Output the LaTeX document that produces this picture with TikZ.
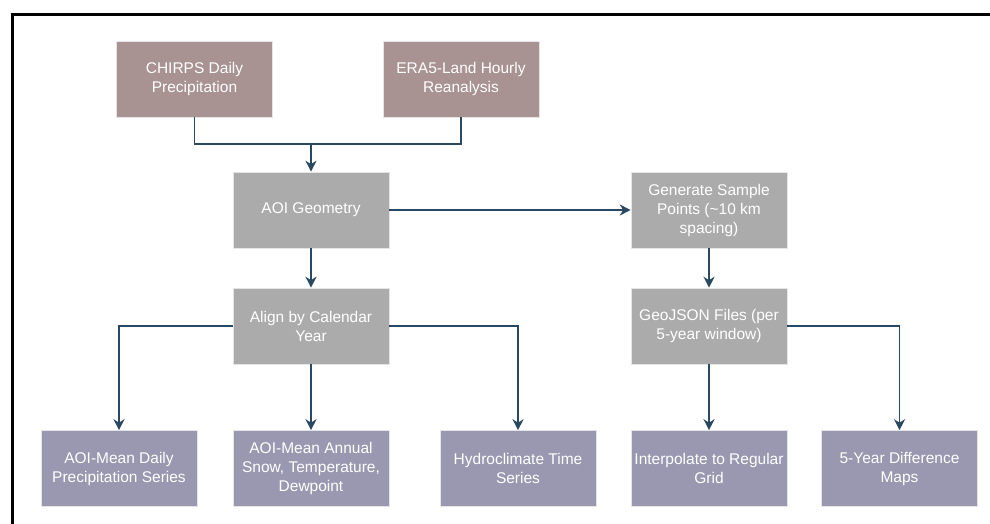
\documentclass[tikz,border=0pt]{standalone}
\usepackage{fontspec}
\setmainfont{Liberation Sans}
\usetikzlibrary{arrows.meta}
\definecolor{srcc}{HTML}{A89292}
\definecolor{midc}{HTML}{ABABAB}
\definecolor{outc}{HTML}{9A97B0}
\definecolor{arrc}{HTML}{294862}
\begin{document}
\begin{tikzpicture}[x=1pt,y=-1pt,
  box/.style={minimum width=156pt,minimum height=76pt,inner sep=0pt,align=center,
    text=white,font=\fontsize{15.5pt}{19pt}\selectfont,draw=white!80!gray,line width=0.6pt},
  srcbox/.style={box,fill=srcc},
  midbox/.style={box,fill=midc},
  outbox/.style={box,fill=outc},
  conn/.style={draw=arrc,line width=1.5pt},
  arr/.style={conn,-{Stealth[length=11pt,width=11pt,inset=3.5pt]}}]
\useasboundingbox (0,0) rectangle (990,524);
\fill[white] (0,0) rectangle (990,524);
\draw[line width=3pt,black] (12,524) -- (12,15) -- (990,15);

\node[srcbox] (chirps) at (194.5,79) {CHIRPS Daily\\Precipitation};
\node[srcbox] (era) at (461,79) {ERA5-Land Hourly\\Reanalysis};
\node[midbox] (aoi) at (311,210) {AOI Geometry};
\node[midbox] (align) at (311,326) {Align by Calendar\\Year};
\node[midbox] (gen) at (709,210) {Generate Sample\\Points (\textasciitilde10 km\\spacing)};
\node[midbox] (geo) at (709,326) {GeoJSON Files (per\\5-year window)};
\node[outbox] (daily) at (119,468.5) {AOI-Mean Daily\\Precipitation Series};
\node[outbox] (annual) at (311,468.5) {AOI-Mean Annual\\Snow, Temperature,\\Dewpoint};
\node[outbox] (hydro) at (518,468.5) {Hydroclimate Time\\Series};
\node[outbox] (interp) at (709,468.5) {Interpolate to Regular\\Grid};
\node[outbox] (diff) at (899.5,468.5) {5-Year Difference\\Maps};

\coordinate (jl) at (chirps.south |- 0,144);
\coordinate (jr) at (era.south |- 0,144);
\coordinate (jm) at (aoi.north |- 0,144);
\draw[conn] (chirps.south) -- (jl) -- (jr) -- (era.south);
\draw[arr] (jm) -- (aoi.north);
\draw[arr] (aoi.east) -- (gen.west);
\draw[arr] (aoi.south) -- (align.north);
\draw[arr] (align.west) -| (daily.north);
\draw[arr] (align.south) -- (annual.north);
\draw[arr] (align.east) -| (hydro.north);
\draw[arr] (gen.south) -- (geo.north);
\draw[arr] (geo.south) -- (interp.north);
\draw[arr] (geo.east) -| (diff.north);
\end{tikzpicture}
\end{document}
